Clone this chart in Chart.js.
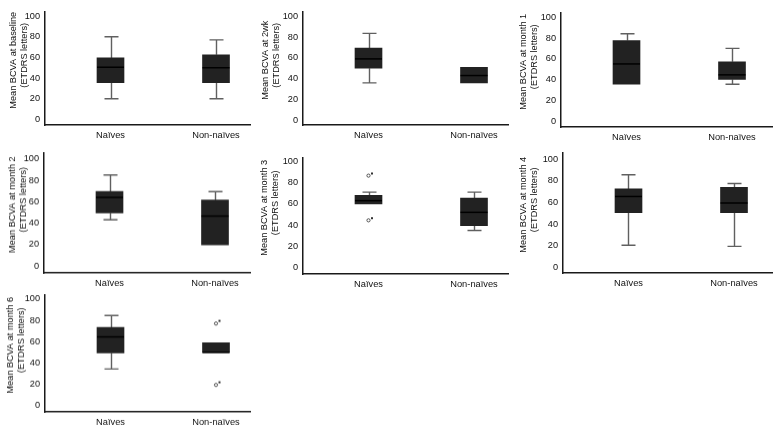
<!DOCTYPE html>
<html><head><meta charset="utf-8">
<script src="https://cdn.jsdelivr.net/npm/chart.js@4.4.1/dist/chart.umd.min.js"></script>
<style>
html,body{margin:0;padding:0;background:#fff;width:773px;height:427px;overflow:hidden;position:relative}
canvas{position:absolute}
</style></head><body>
<script>
// ---------- data ----------
const groups = ['Naïves', 'Non-naïves'];
const yTickValues = [0, 20, 40, 60, 80, 100];
const panelTitles = ['Mean BCVA at baseline', 'Mean BCVA at 2wk', 'Mean BCVA at month 1',
  'Mean BCVA at month 2', 'Mean BCVA at month 3', 'Mean BCVA at month 4', 'Mean BCVA at month 6'];
const titleLine2 = '(ETDRS letters)';

// five-number summaries, one value per panel (baseline, 2wk, m1, m2, m3, m4, m6)
const naiveMin    = [20,   36,   35.5, 43,   60,   20.5, 34.5];
const naiveQ1     = [35.5, 50,   35.5, 49.5, 60,   50.5, 49.5];
const naiveMedian = [50.5, 59,   55,   64,   63,   65.5, 64.5];
const naiveQ3     = [59.5, 69.5, 77.5, 69.5, 68,   72.5, 73.5];
const naiveMax    = [80,   83.5, 84,   85,   71,   85.5, 84.5];

const nonMin      = [20,   36,   35.5, 19.5, 35,   19.5, 50];
const nonQ1       = [35.5, 36,   40,   19.5, 39.5, 50.5, 50];
const nonMedian   = [50,   43,   44.5, 46.5, 52,   59.5, 50];
const nonQ3       = [62.5, 51,   57,   61.5, 65.5, 74,   59];
const nonMax      = [77,   51,   70,   69.5, 71,   77.5, 59];

const naiveOutliers = [[], [], [], [], [86.5, 88.5, 44.5, 46.5], [], []];
const nonOutliers   = [[], [], [], [], [], [], [77, 79.5, 19.5, 22]];

// ---------- layout (page positions of each panel's plot area) ----------
const panelLayout = [
  {ax: 45,  top: 4,   bottom: 125,   w: 205, yMin: -5.5, yMax: 104.5, tx: -32},
  {ax: 303, top: 4,   bottom: 125,   w: 205, yMin: -4.5, yMax: 104.5, tx: -37.5},
  {ax: 561, top: 5,   bottom: 127,   w: 212, yMin: -5.7, yMax: 104.5, tx: -37.5},
  {ax: 44,  top: 145, bottom: 272.5, w: 206, yMin: -6.6, yMax: 105.9, tx: -32},
  {ax: 303, top: 150, bottom: 274,   w: 205, yMin: -5.9, yMax: 103.5, tx: -39},
  {ax: 563, top: 145, bottom: 273,   w: 210, yMin: -5,   yMax: 106,   tx: -40},
  {ax: 45,  top: 287, bottom: 411.5, w: 205, yMin: -5.7, yMax: 104.1, tx: -35}
];
const PAD_TOP = 3, Y_W = 45, X_H = 22, NAIVE_OFF = 65.5, UNIT = 105.5;
const FONT = '"Liberation Sans", Arial, sans-serif';

function statsFor(p) {
  return [
    {min: naiveMin[p], q1: naiveQ1[p], med: naiveMedian[p], q3: naiveQ3[p], max: naiveMax[p], out: naiveOutliers[p]},
    {min: nonMin[p], q1: nonQ1[p], med: nonMedian[p], q3: nonQ3[p], max: nonMax[p], out: nonOutliers[p]}
  ];
}

const boxExtras = {
  id: 'boxExtras',
  beforeDatasetsDraw(chart, args, opts) {
    const xs = chart.scales.x, ys = chart.scales.y, ctx = chart.ctx;
    statsFor(opts.panel).forEach((s, g) => {
      const cx = Math.round(xs.getPixelForValue(g)) + 0.5;
      ctx.save();
      ctx.strokeStyle = '#606060';
      ctx.lineWidth = 1.4;
      const cap = 7;
      const seg = (a, b) => {
        const ya = ys.getPixelForValue(a), yb = ys.getPixelForValue(b);
        ctx.beginPath(); ctx.moveTo(cx, ya); ctx.lineTo(cx, yb);
        ctx.moveTo(cx - cap, yb); ctx.lineTo(cx + cap, yb); ctx.stroke();
      };
      if (s.max > s.q3) seg(s.q3, s.max);
      if (s.min < s.q1) seg(s.q1, s.min);
      ctx.restore();
    });
  },
  afterDatasetsDraw(chart, args, opts) {
    const xs = chart.scales.x, ys = chart.scales.y, ctx = chart.ctx;
    statsFor(opts.panel).forEach((s, g) => {
      const cx = xs.getPixelForValue(g);
      ctx.save();
      ctx.strokeStyle = '#000';
      ctx.lineWidth = 1.5;
      const ym = ys.getPixelForValue(s.med);
      ctx.beginPath(); ctx.moveTo(cx - 13.5, ym); ctx.lineTo(cx + 13.5, ym); ctx.stroke();
      s.out.forEach((v, i) => {
        const y = ys.getPixelForValue(v);
        if (i % 2 === 0) {
          ctx.strokeStyle = '#444'; ctx.lineWidth = 0.9;
          ctx.beginPath(); ctx.arc(cx, y, 1.6, 0, Math.PI * 2); ctx.stroke();
        } else {
          ctx.fillStyle = '#333';
          ctx.fillRect(cx + 2.5, y - 1, 2, 2);
        }
      });
      ctx.restore();
    });
    // y-axis title, two rotated lines
    const area = chart.chartArea, mid = (area.top + area.bottom) / 2;
    const x1 = area.left + opts.tx;
    ctx.save();
    ctx.fillStyle = '#111';
    ctx.font = '9.2px ' + FONT;
    ctx.textAlign = 'center';
    ctx.textBaseline = 'middle';
    [[panelTitles[opts.panel], x1, mid - 8], [titleLine2, x1 + 11, mid - 13]].forEach(([t, x, y]) => {
      ctx.save(); ctx.translate(x, y); ctx.rotate(-Math.PI / 2); ctx.fillText(t, 0, 0); ctx.restore();
    });
    ctx.restore();
  }
};

panelLayout.forEach((L, p) => {
  const c = document.createElement('canvas');
  const W = Y_W + L.w + 2;
  const H = PAD_TOP + (L.bottom - L.top) + X_H;
  c.width = W; c.height = H;
  c.style.left = (L.ax - Y_W) + 'px';
  c.style.top = (L.top - PAD_TOP) + 'px';
  c.style.width = W + 'px'; c.style.height = H + 'px';
  document.body.appendChild(c);
  const st = statsFor(p);
  new Chart(c, {
    type: 'bar',
    data: {
      datasets: [{
        data: st.map((s, g) => ({x: g, y: [s.q1, s.q3]})),
        backgroundColor: '#222222',
        borderWidth: 0,
        barThickness: 27
      }]
    },
    options: {
      responsive: false,
      animation: false,
      events: [],
      devicePixelRatio: 1,
      layout: {padding: {left: 0, right: 2, top: PAD_TOP, bottom: 0}},
      plugins: {legend: {display: false}, tooltip: {enabled: false}, boxExtras: {panel: p, tx: L.tx}},
      scales: {
        x: {
          type: 'linear',
          offset: false,
          min: -NAIVE_OFF / UNIT,
          max: (L.w - NAIVE_OFF) / UNIT,
          grid: {display: false, drawTicks: false},
          border: {display: true, color: '#1a1a1a', width: 1.5},
          afterBuildTicks: s => { s.ticks = groups.map((_, i) => ({value: i})); },
          afterFit: s => { s.height = X_H; },
          ticks: {
            callback: v => groups[v],
            font: {family: FONT, size: 9.3},
            color: '#111',
            padding: 4.5,
            maxRotation: 0,
            autoSkip: false
          }
        },
        y: {
          min: L.yMin,
          max: L.yMax,
          grid: {display: false, drawTicks: false},
          border: {display: true, color: '#1a1a1a', width: 1.5},
          afterBuildTicks: s => { s.ticks = yTickValues.map(v => ({value: v})); },
          afterFit: s => { s.width = Y_W; },
          ticks: {font: {family: FONT, size: 9.2}, color: '#111', padding: 5},
          title: {display: false}
        }
      }
    },
    plugins: [boxExtras]
  });
});
</script>
</body></html>
